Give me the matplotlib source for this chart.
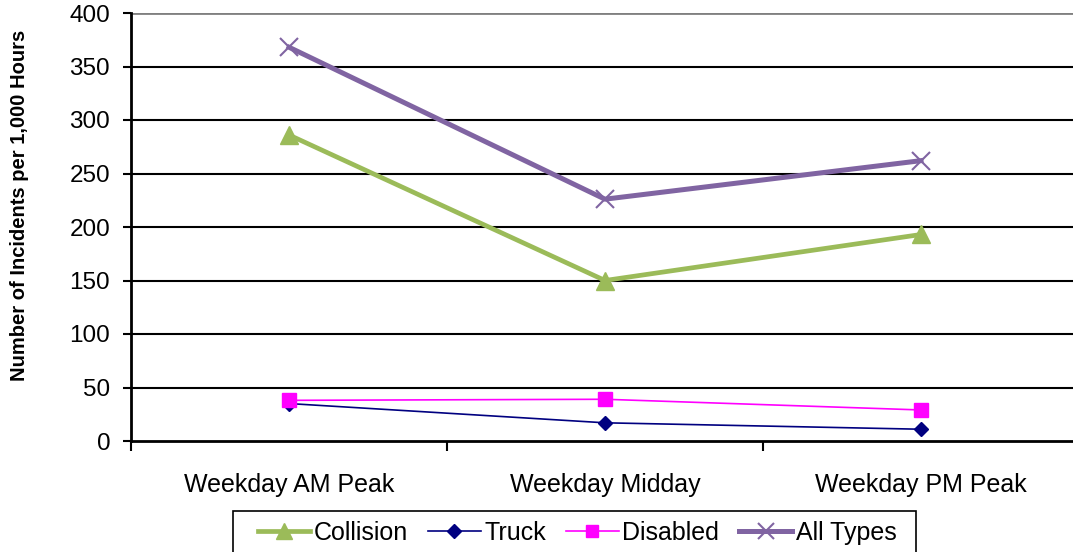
import matplotlib
matplotlib.use("Agg")
import matplotlib.pyplot as plt
from matplotlib.patches import Rectangle
import numpy as np

plt.rcParams['font.family'] = ['Liberation Sans', 'DejaVu Sans']

categories = ["Weekday AM Peak", "Weekday Midday", "Weekday PM Peak"]
collision = [286, 150, 193]
truck = [35, 17, 11]
disabled = [38, 39, 29]
all_types = [368, 226, 262]
y_ticks = [0, 50, 100, 150, 200, 250, 300, 350, 400]

fig = plt.figure(figsize=(10.73, 5.52), dpi=100)
ax = fig.add_axes([131/1073, 111/552, 948/1073, 428/552])

x = np.arange(len(categories))

ax.set_ylim(0, 400)
ax.set_xlim(-0.5, 2.5)
for v in y_ticks[1:-1]:
    ax.axhline(v, color='black', lw=1.5, zorder=1)
ax.axhline(400, color='#808080', lw=2, zorder=1)

ax.plot(x, collision, color='#9BBB59', lw=3.4, marker='^', ms=13,
        mec='#9BBB59', label='Collision', zorder=3)
ax.plot(x, truck, color='#000080', lw=1.2, marker='D', ms=7.5,
        mec='#000080', label='Truck', zorder=3)
ax.plot(x, disabled, color='#FF00FF', lw=1.2, marker='s', ms=9.5,
        mec='#FF00FF', label='Disabled', zorder=3)
ax.plot(x, all_types, color='#8064A2', lw=3.6, marker='x', ms=13, mew=1.5,
        mec='#8064A2', label='All Types', zorder=3)

ax.set_yticks(y_ticks)
ax.set_yticklabels([str(v) for v in y_ticks], fontsize=17.5)
ax.tick_params(axis='y', length=6, width=1.5, direction='out', pad=9, colors='black')

ax.set_xticks(x)
ax.set_xticklabels(categories, fontsize=18)
ax.tick_params(axis='x', which='major', length=0, pad=23)
ax.set_xticks([-0.5, 0.5, 1.5], minor=True)
ax.tick_params(axis='x', which='minor', length=7, width=1.5, direction='out')

for s in ['top', 'right']:
    ax.spines[s].set_visible(False)
ax.spines['left'].set_linewidth(2)
ax.spines['bottom'].set_linewidth(2)

fig.text(20/1073, 1 - 205/552, "Number of Incidents per 1,000 Hours", rotation=90,
         fontsize=14.5, fontweight='bold', ha='center', va='center')

# legend frame
fig.patches.append(Rectangle((233/1073, -0.02), 683/1073, 41/552 + 0.02,
                             transform=fig.transFigure, facecolor='white',
                             edgecolor='black', lw=1.2, zorder=0))

leg = fig.legend(loc='center', bbox_to_anchor=(577/1073, 1 - 533/552), ncol=4,
                 fontsize=18, frameon=False,
                 handlelength=2.1, handletextpad=0.15, columnspacing=0.8,
                 borderpad=0, borderaxespad=0, markerscale=0.9)

fig.savefig("out.png", dpi=100)
